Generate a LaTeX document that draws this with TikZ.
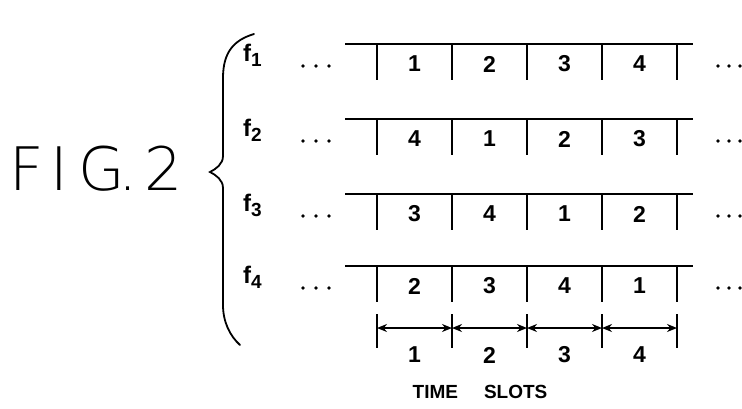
\documentclass[tikz,border=0pt]{standalone}
\usepackage{fontspec}
\setmainfont{Liberation Sans}
\newfontfamily\figfont{DejaVu Sans ExtraLight}
\usetikzlibrary{arrows.meta}
\begin{document}
\begin{tikzpicture}[x=1pt,y=-1pt,
  slotline/.style={line width=2.8pt},
  slottick/.style={line width=2.6pt},
  dimline/.style={line width=1.6pt,{Stealth[length=10pt,width=8pt]}-{Stealth[length=10pt,width=8pt]}},
  dimbar/.style={line width=2.2pt},
  numtxt/.style={font=\bfseries\fontsize{23}{23}\selectfont,inner sep=0pt},
  flab/.style={font=\bfseries\fontsize{24}{24}\selectfont,inner sep=0pt,anchor=base west},
  dotmark/.style={fill=black,draw=none},
  figtxt/.style={font=\figfont\fontsize{60}{60}\selectfont,inner sep=0pt,anchor=base west}]
\useasboundingbox (0,0) rectangle (742,408);
% FIG. 2
\node[figtxt] (figF) at (9,190) {F};
\node[figtxt] (figI) at (50,190) {I};
\node[figtxt] (figG) at (78,190) {G};
\node[figtxt] (figdot) at (118,190) {.};
\node[figtxt] (fig2) at (144,190) {2};
% brace
\draw[line width=1.8pt,line cap=round] (254,34) .. controls (234,40) and (223,52) .. (223,78)
  -- (223,156) .. controls (223,164) and (216,169) .. (210,172)
  .. controls (216,175) and (223,180) .. (223,188)
  -- (223,305) .. controls (223,322) and (230,336) .. (240,345);
% rows
\foreach \r/\y/\a/\b/\c/\d in {1/44/1/2/3/4, 2/119/4/1/2/3, 3/194/3/4/1/2, 4/266/2/3/4/1}{
  \draw[slotline] (345,\y) -- (693,\y);
  \foreach \x in {377,452,527,602,677}{
    \draw[slottick] (\x,\y) -- (\x,\y+36);
  }
  \node[numtxt] (n\r a) at (414.5,\y+20) {\a};
  \node[numtxt] (n\r b) at (489.5,\y+20) {\b};
  \node[numtxt] (n\r c) at (564.5,\y+20) {\c};
  \node[numtxt] (n\r d) at (639.5,\y+20) {\d};
  \node[flab] (f\r) at (243,\y+17) {f\raisebox{-5pt}{\fontsize{19}{19}\selectfont\r}};
  \foreach \dx in {303,316,329,718,729,740}{
    \fill[dotmark] (\dx,\y+22) circle (1.9pt);
  }
}
% time slot dimensions
\foreach \x in {377,452,527,602,677}{
  \draw[dimbar] (\x,314) -- (\x,348);
}
\coordinate (t0) at (377,328);
\coordinate (t1) at (452,328);
\coordinate (t2) at (527,328);
\coordinate (t3) at (602,328);
\coordinate (t4) at (677,328);
\draw[dimline] (t0) -- (t1);
\draw[dimline] (t1) -- (t2);
\draw[dimline] (t2) -- (t3);
\draw[dimline] (t3) -- (t4);
\node[numtxt] (s1) at (414.5,355) {1};
\node[numtxt] (s2) at (489.5,355) {2};
\node[numtxt] (s3) at (564.5,355) {3};
\node[numtxt] (s4) at (639.5,355) {4};
\node[font=\bfseries\fontsize{19}{19}\selectfont,inner sep=0pt] (ts) at (480,392) {TIME\hspace{26pt}SLOTS};
\end{tikzpicture}
\end{document}
